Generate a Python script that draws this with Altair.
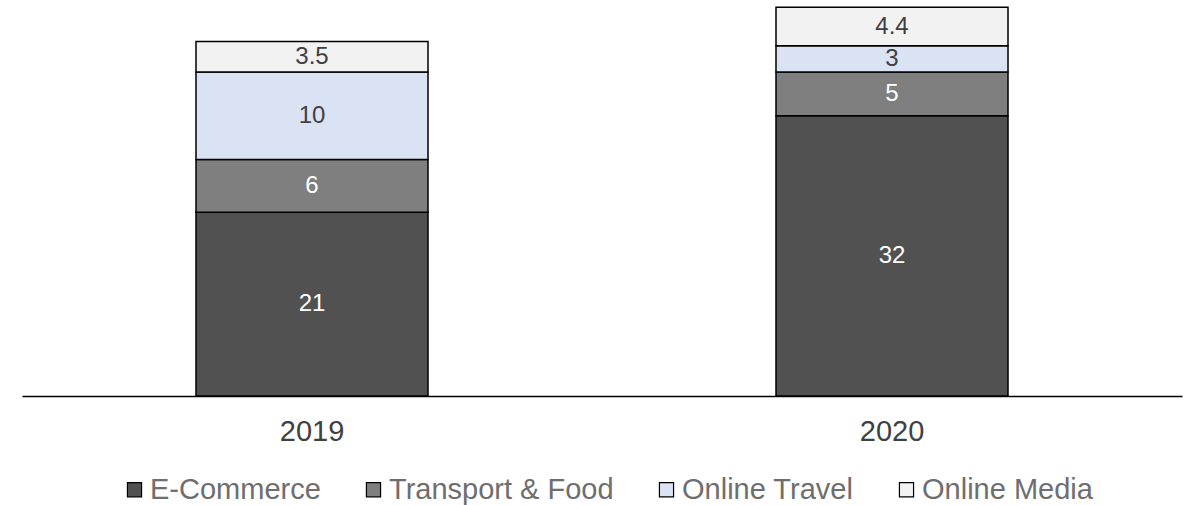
import altair as alt
import pandas as pd

years = ["2019", "2020"]
series = ["E-Commerce", "Transport & Food", "Online Travel", "Online Media"]
values_2019 = [21, 6, 10, 3.5]
values_2020 = [32, 5, 3, 4.4]
colors = ["#515151", "#7f7f7f", "#dae3f3", "#f2f2f2"]
text_colors = ["#ffffff", "#ffffff", "#404040", "#404040"]

rows = []
for y, vals in zip(years, [values_2019, values_2020]):
    for i, (s, v) in enumerate(zip(series, vals)):
        rows.append({"year": y, "series": s, "v": v, "ord": i, "tc": text_colors[i]})
df = pd.DataFrame(rows)

FONT = "Liberation Sans"

base = alt.Chart(df).transform_stack(
    stack="v", groupby=["year"], as_=["v0", "v1"], sort=[alt.SortField("ord", order="ascending")]
).transform_calculate(mid="(datum.v0 + datum.v1) / 2")

x = alt.X(
    "year:N",
    title=None,
    scale=alt.Scale(paddingInner=0.6, paddingOuter=0.3),
    axis=alt.Axis(
        labelAngle=0, labelFont=FONT, labelFontSize=29, labelColor="#404040",
        ticks=False, domainColor="#000000", domainWidth=1.5, labelPadding=21,
    ),
)

bars = base.mark_bar(stroke="#000000", strokeWidth=1.5).encode(
    x=x,
    y=alt.Y("v0:Q", scale=alt.Scale(domain=[0, 45]), axis=None),
    y2="v1:Q",
    color=alt.Color(
        "series:N",
        scale=alt.Scale(domain=series, range=colors),
        sort=series,
        legend=alt.Legend(
            title=None, orient="none", direction="horizontal", legendX=98, legendY=473,
            symbolType="square", symbolSize=200, symbolStrokeColor="#000000", symbolStrokeWidth=1.2,
            labelFont=FONT, labelFontSize=29, labelColor="#6e6e6e", labelOffset=1,
            labelLimit=500, columnPadding=38, padding=0, symbolOpacity=1,
        ),
    ),
)

labels = base.mark_text(font=FONT, fontSize=24, baseline="middle", align="center").encode(
    x=alt.X("year:N"),
    y=alt.Y("mid:Q"),
    text=alt.Text("v:Q"),
    color=alt.Color("tc:N", scale=None),
)

chart = alt.layer(bars, labels).properties(
    width=1160, height=394,
    background="#ffffff",
    autosize=alt.AutoSizeParams(type="none"),
    padding={"left": 22, "top": 2, "right": 5, "bottom": 109},
).configure_view(stroke=None)

chart.save("out.html", embed_options={"renderer": "svg", "actions": False})
